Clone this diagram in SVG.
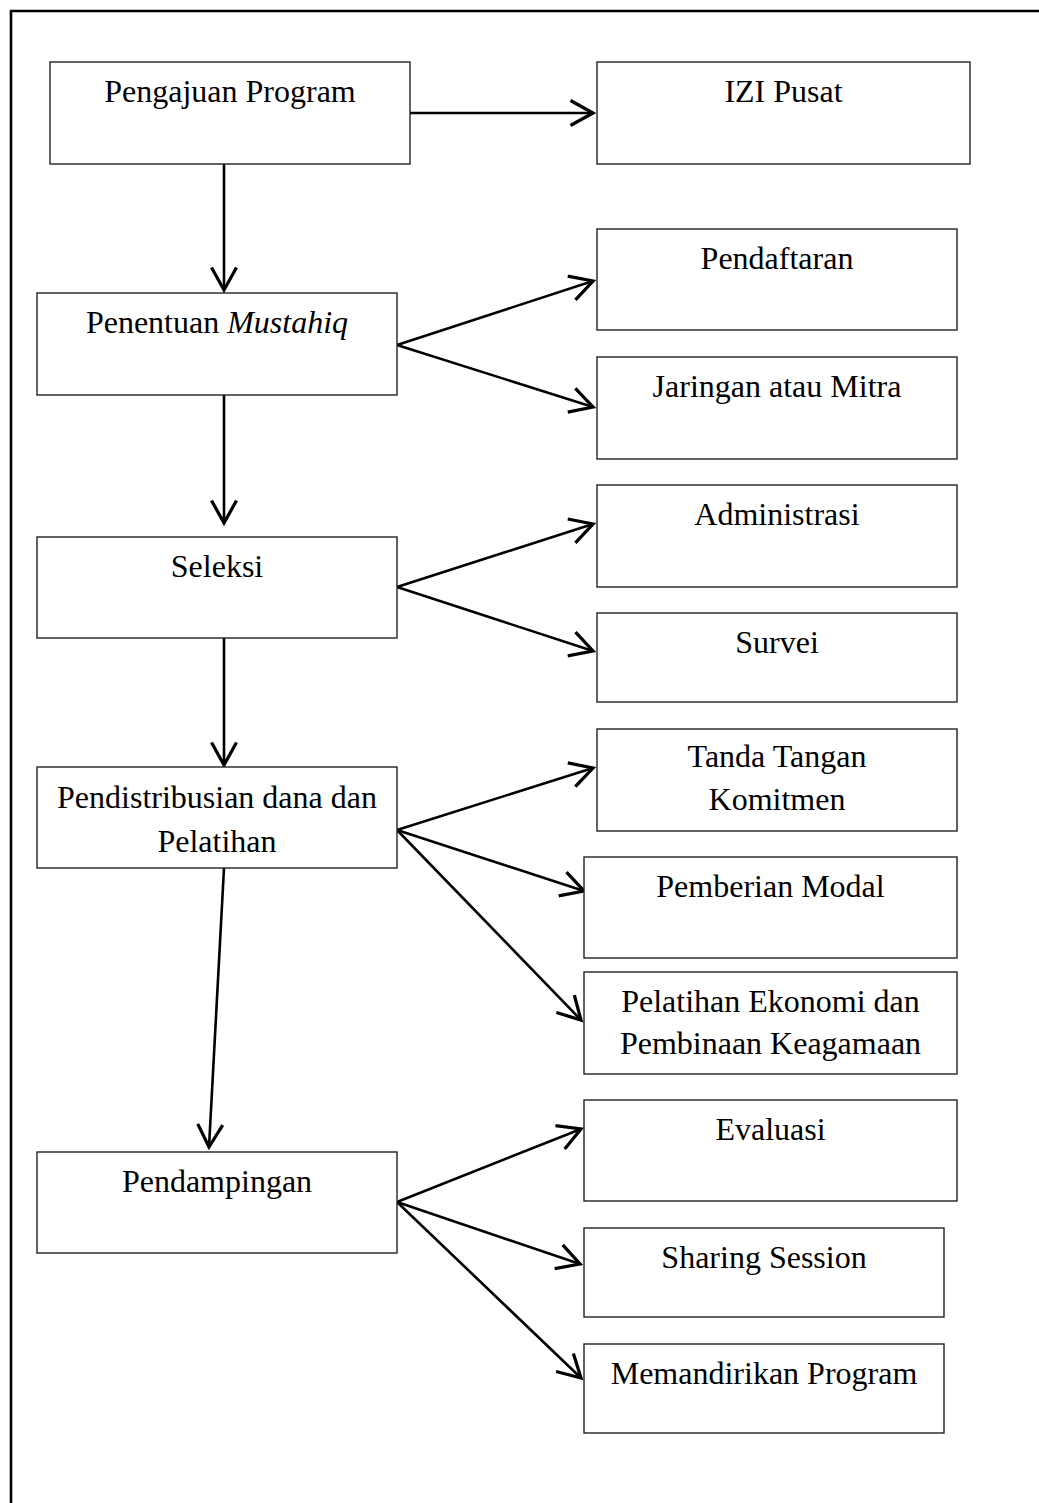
<svg xmlns="http://www.w3.org/2000/svg" width="1039" height="1503" viewBox="0 0 1039 1503">
<style>
.box{fill:#fff;stroke:#222;stroke-width:1.4}
.t{font-family:"Liberation Serif","Times New Roman",serif;font-size:32px;fill:#000;text-anchor:middle}
.c{stroke:#000;stroke-width:2.6;fill:none;marker-end:url(#ah)}
</style>
<defs>
<marker id="ah" markerUnits="userSpaceOnUse" markerWidth="30" markerHeight="30" refX="0" refY="0" viewBox="-20 -12 24 24" orient="auto" overflow="visible">
<path d="M-18,-10 L0,0 L-18,10" fill="none" stroke="#000" stroke-width="2.6"/>
</marker>
</defs>
<rect width="1039" height="1503" fill="#fff"/>
<path d="M11,1503 V11 H1039" fill="none" stroke="#000" stroke-width="2.6"/>
<g id="connectors">
<line class="c" x1="410" y1="113" x2="593" y2="113"/>
<line class="c" x1="224" y1="164" x2="224" y2="290"/>
<line class="c" x1="397" y1="345" x2="593" y2="281"/>
<line class="c" x1="397" y1="345" x2="593" y2="407"/>
<line class="c" x1="224" y1="395" x2="224" y2="523"/>
<line class="c" x1="397" y1="587" x2="593" y2="524"/>
<line class="c" x1="397" y1="587" x2="593" y2="651"/>
<line class="c" x1="224" y1="638" x2="224" y2="765"/>
<line class="c" x1="397" y1="830" x2="593" y2="768"/>
<line class="c" x1="397" y1="830" x2="584" y2="891"/>
<line class="c" x1="397" y1="830" x2="581" y2="1020"/>
<line class="c" x1="224" y1="868" x2="209" y2="1147"/>
<line class="c" x1="397" y1="1202" x2="581" y2="1129"/>
<line class="c" x1="397" y1="1202" x2="580" y2="1264"/>
<line class="c" x1="397" y1="1202" x2="581" y2="1378"/>
</g>
<g id="pengajuan"><rect class="box" x="50" y="62" width="360" height="102"/><text class="t" x="230" y="102">Pengajuan Program</text></g>
<g id="izi"><rect class="box" x="597" y="62" width="373" height="102"/><text class="t" x="783.5" y="102">IZI Pusat</text></g>
<g id="penentuan"><rect class="box" x="37" y="293" width="360" height="102"/><text class="t" x="217" y="333">Penentuan <tspan font-style="italic">Mustahiq</tspan></text></g>
<g id="pendaftaran"><rect class="box" x="597" y="229" width="360" height="101"/><text class="t" x="777" y="269">Pendaftaran</text></g>
<g id="jaringan"><rect class="box" x="597" y="357" width="360" height="102"/><text class="t" x="777" y="397">Jaringan atau Mitra</text></g>
<g id="administrasi"><rect class="box" x="597" y="485" width="360" height="102"/><text class="t" x="777" y="525">Administrasi</text></g>
<g id="seleksi"><rect class="box" x="37" y="537" width="360" height="101"/><text class="t" x="217" y="577">Seleksi</text></g>
<g id="survei"><rect class="box" x="597" y="613" width="360" height="89"/><text class="t" x="777" y="653">Survei</text></g>
<g id="pendistribusian"><rect class="box" x="37" y="767" width="360" height="101"/><text class="t" x="217" y="808">Pendistribusian dana dan</text><text class="t" x="217" y="852">Pelatihan</text></g>
<g id="tanda"><rect class="box" x="597" y="729" width="360" height="102"/><text class="t" x="777" y="767">Tanda Tangan</text><text class="t" x="777" y="810">Komitmen</text></g>
<g id="pemberian"><rect class="box" x="584" y="857" width="373" height="101"/><text class="t" x="770.5" y="897">Pemberian Modal</text></g>
<g id="pelatihan"><rect class="box" x="584" y="972" width="373" height="102"/><text class="t" x="770.5" y="1012">Pelatihan Ekonomi dan</text><text class="t" x="770.5" y="1054">Pembinaan Keagamaan</text></g>
<g id="pendampingan"><rect class="box" x="37" y="1152" width="360" height="101"/><text class="t" x="217" y="1192">Pendampingan</text></g>
<g id="evaluasi"><rect class="box" x="584" y="1100" width="373" height="101"/><text class="t" x="770.5" y="1140">Evaluasi</text></g>
<g id="sharing"><rect class="box" x="584" y="1228" width="360" height="89"/><text class="t" x="764" y="1268">Sharing Session</text></g>
<g id="memandirikan"><rect class="box" x="584" y="1344" width="360" height="89"/><text class="t" x="764" y="1384">Memandirikan Program</text></g>
</svg>
